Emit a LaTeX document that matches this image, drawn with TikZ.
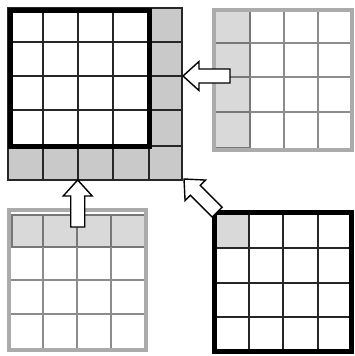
\documentclass[tikz,border=0pt]{standalone}
\definecolor{cellgray}{HTML}{C9C9C9}
\definecolor{litecell}{HTML}{D9D9D9}
\definecolor{rimgray}{HTML}{ABABAB}
\definecolor{linegray}{HTML}{8C8C8C}
\definecolor{outlinegray}{HTML}{777777}
\tikzset{
  thinblack/.style={draw=black!85, line width=1.4pt},
  thickblack/.style={draw=black, line width=5pt},
  rim/.style={draw=rimgray, line width=4pt},
  gline/.style={draw=linegray, line width=1.3pt},
  hilite/.style={fill=litecell, draw=outlinegray, line width=1.2pt},
  arrowstyle/.style={draw=black, fill=white, line width=1.4pt, line join=miter},
  blockarrow/.pic={\path[arrowstyle] (0,0) -- (16,-14.5) -- (16,-7) -- (47,-7) -- (47,7) -- (16,7) -- (16,14.5) -- cycle;}
}
\begin{document}
\begin{tikzpicture}[x=1pt,y=-1pt]
\useasboundingbox (0,0) rectangle (355,356);
\fill[white] (0,0) rectangle (355,356);

% ---------- top-left: result grid with gray last column / row
\fill[cellgray] (149,8) rectangle (182,180);
\fill[cellgray] (8,146) rectangle (182,180);
\foreach \y in {42,76,110,146} \draw[thinblack] (149,\y) -- (182,\y);
\foreach \x in {43,78,113,149} \draw[thinblack] (\x,146) -- (\x,180);
\foreach \x in {43,78,113} \draw[thinblack] (\x,10) -- (\x,146);
\foreach \y in {42,76,110} \draw[thinblack] (10,\y) -- (149,\y);
\draw[thinblack] (8,8) rectangle (182,180);
\draw[thickblack] (10.5,10.5) rectangle (149,146);

% ---------- top-right: gray grid, first column highlighted
\path[hilite] (215,11) rectangle (250,148);
\foreach \x in {284,318} \draw[gline] (\x,10) -- (\x,150);
\foreach \y in {43,77,112} \draw[gline] (250,\y) -- (352,\y);
\foreach \y in {43,77,112} \draw[draw=outlinegray, line width=1.1pt] (215,\y) -- (250,\y);
\draw[rim] (214,10) rectangle (352,150);

% ---------- bottom-left: gray grid, first row highlighted
\path[hilite] (12,215) rectangle (145,247);
\foreach \x in {43,77,111} \draw[gline] (\x,247) -- (\x,350);
\foreach \x in {43,77,111} \draw[draw=outlinegray, line width=1.1pt] (\x,215) -- (\x,247);
\foreach \y in {280,314} \draw[gline] (9,\y) -- (146,\y);
\draw[rim] (9,210) rectangle (146,350);

% ---------- bottom-right: black grid, corner cell highlighted
\path[hilite] (216,214) rectangle (249,248);
\foreach \x in {249,283,318} \draw[thinblack] (\x,212) -- (\x,352);
\foreach \y in {248,283,317} \draw[thinblack] (212,\y) -- (352,\y);
\draw[thickblack] (214.5,212.5) rectangle (351.5,351.5);

% ---------- arrows
\coordinate (tipL) at (183,76);
\coordinate (tipU) at (77.7,180);
\coordinate (tipD) at (184,179);
\pic at (tipL) {blockarrow};
\pic[rotate=-90] at (tipU) {blockarrow};
\pic[rotate=-45] at (tipD) {blockarrow};
\end{tikzpicture}
\end{document}
